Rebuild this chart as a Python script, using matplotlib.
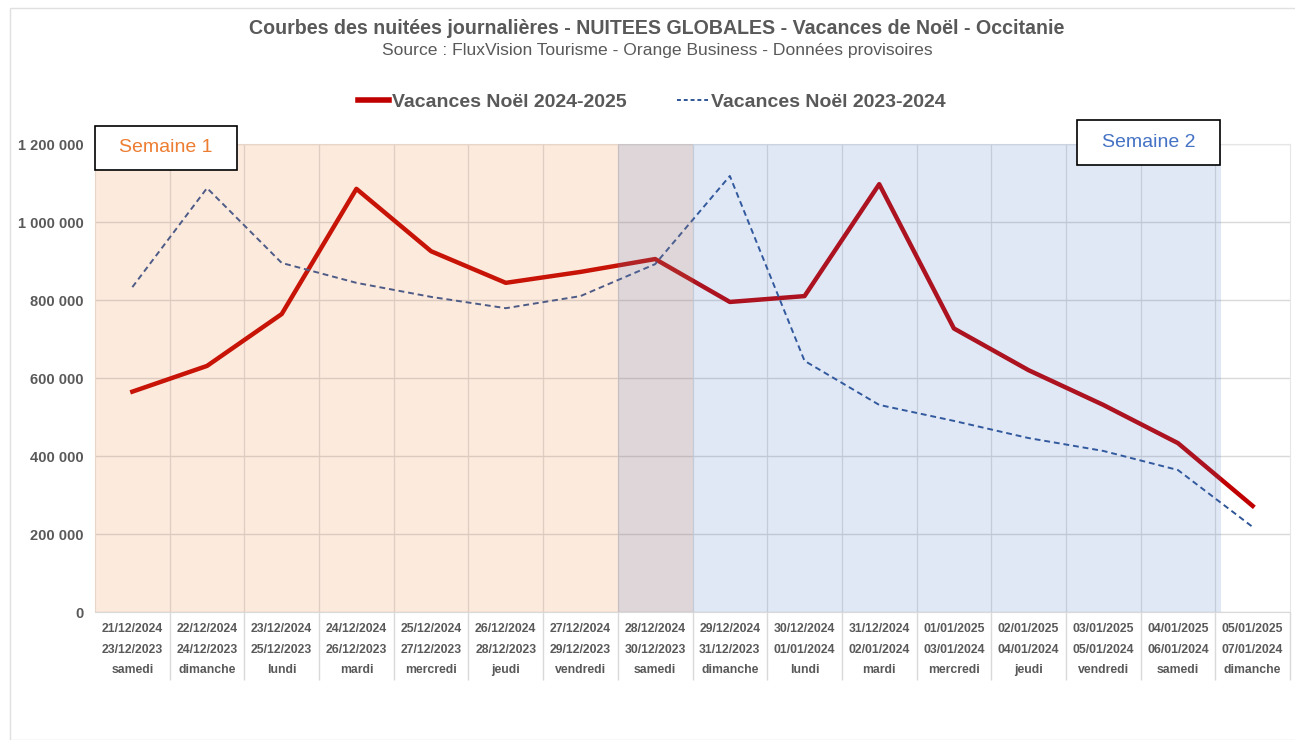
import matplotlib

matplotlib.use("Agg")
import matplotlib.pyplot as plt  # noqa: E402
from matplotlib.lines import Line2D  # noqa: E402
from matplotlib.patches import Rectangle  # noqa: E402
from matplotlib.ticker import FuncFormatter  # noqa: E402

plt.rcParams["font.family"] = ["Liberation Sans", "DejaVu Sans"]

dates_2024 = ["21/12/2024", "22/12/2024", "23/12/2024", "24/12/2024", "25/12/2024",
              "26/12/2024", "27/12/2024", "28/12/2024", "29/12/2024", "30/12/2024",
              "31/12/2024", "01/01/2025", "02/01/2025", "03/01/2025", "04/01/2025",
              "05/01/2025"]
dates_2023 = ["23/12/2023", "24/12/2023", "25/12/2023", "26/12/2023", "27/12/2023",
              "28/12/2023", "29/12/2023", "30/12/2023", "31/12/2023", "01/01/2024",
              "02/01/2024", "03/01/2024", "04/01/2024", "05/01/2024", "06/01/2024",
              "07/01/2024"]
weekdays = ["samedi", "dimanche", "lundi", "mardi", "mercredi", "jeudi", "vendredi",
            "samedi", "dimanche", "lundi", "mardi", "mercredi", "jeudi", "vendredi",
            "samedi", "dimanche"]

nuitees_2024_2025 = [565000, 631000, 764000, 1085000, 925000, 844000, 872000, 905000,
                     795000, 810000, 1097000, 727000, 620000, 531000, 433000, 272000]
nuitees_2023_2024 = [833000, 1087000, 895000, 844000, 808000, 779000, 810000, 892000,
                     1118000, 644000, 531000, 490000, 446000, 413000, 364000, 218000]

week1 = (0, 7)   # first..last category index shaded as Semaine 1
week2 = (7, 14)  # first..last category index shaded as Semaine 2

GREY = "#595959"
ORANGE = "#ED7D31"
BLUE = "#4472C4"
W, H = 1295, 740

fig = plt.figure(figsize=(W / 100, H / 100), dpi=100)
ax = fig.add_axes([95 / W, 1 - 612 / H, 1195 / W, 468 / H])

x = list(range(len(dates_2024)))
ax.plot(x, nuitees_2024_2025, color="#C00000", lw=3.2, zorder=2)
ax.plot(x, nuitees_2023_2024, color="#2F5597", lw=1.4, ls=(0, (3, 2)), zorder=2)

# shading drawn on top of the lines, as in the source
ax.axvspan(week1[0] - 0.5, week1[1] + 0.5, color=ORANGE, alpha=0.16, lw=0, zorder=3)
ax.axvspan(week2[0] - 0.5, week2[1] + 0.58, color=BLUE, alpha=0.16, lw=0, zorder=3)

ax.set_xlim(-0.5, len(x) - 0.5)
ax.set_ylim(0, 1200000)
ax.set_yticks(range(0, 1200001, 200000))
ax.yaxis.set_major_formatter(FuncFormatter(lambda v, _: f"{int(v):,}".replace(",", " ")))
ax.grid(axis="y", color="#D9D9D9", lw=1, zorder=1)
for b in [i - 0.5 for i in range(1, len(x))]:
    ax.axvline(b, color="#DEDEDE", lw=0.9, zorder=1)

ax.set_xticks(x)
ax.set_xticklabels([f"{a}\n{b}\n{c}" for a, b, c in zip(dates_2024, dates_2023, weekdays)],
                   fontsize=8.8, fontweight="bold", color=GREY, linespacing=1.95)
ax.tick_params(axis="x", which="major", length=0, pad=8)
ax.set_xticks([i - 0.5 for i in range(1, len(x) + 1)], minor=True)
ax.tick_params(axis="x", which="minor", length=49, color="#D9D9D9", width=1)
ax.tick_params(axis="y", length=0, pad=8, labelsize=10.5, labelcolor=GREY)
for lbl in ax.get_yticklabels():
    lbl.set_fontweight("bold")
for side in ["top", "right", "left"]:
    ax.spines[side].set_color("#E6E6E6")
ax.spines["bottom"].set_color("#D9D9D9")

fig.text(657 / W, 1 - 29 / H, "Courbes des nuitées journalières - NUITEES GLOBALES - Vacances de Noël - Occitanie",
         ha="center", va="center", fontsize=14.1, fontweight="bold", color=GREY)
fig.text(657 / W, 1 - 51 / H, "Source : FluxVision Tourisme - Orange Business - Données provisoires",
         ha="center", va="center", fontsize=12.6, color=GREY)

handles = [Line2D([], [], color="#C00000", lw=4),
           Line2D([], [], color="#2F5597", lw=1.4, ls=(0, (2, 1.5)))]
leg = fig.legend(handles, ["Vacances Noël 2024-2025", "Vacances Noël 2023-2024"],
                 loc="center", bbox_to_anchor=(652 / W, 1 - 102 / H), ncol=2, frameon=False,
                 handlelength=1.6, handletextpad=0.15, columnspacing=2.6,
                 prop={"size": 14, "weight": "bold"})
for t in leg.get_texts():
    t.set_color(GREY)

# "Semaine" label boxes (pixel boxes: x0, y0_top, x1, y1_bottom)
for (x0, y0, x1, y1), label, col in [((95, 126, 237, 170), "Semaine 1", ORANGE),
                                     ((1077, 120, 1220, 165), "Semaine 2", BLUE)]:
    fig.patches.append(Rectangle((x0 / W, 1 - y1 / H), (x1 - x0) / W, (y1 - y0) / H,
                                 transform=fig.transFigure, fc="white", ec="black",
                                 lw=1.2, zorder=5))
    fig.text((x0 + x1) / 2 / W, 1 - (y0 + y1) / 2 / H, label, ha="center", va="center",
             fontsize=14, color=col, zorder=6)

fig.patches.append(Rectangle((10 / W, 0), 1, 1 - 8 / H, transform=fig.transFigure,
                             fill=False, ec="#E0E0E0", lw=1))

fig.savefig("out.png", dpi=100)
